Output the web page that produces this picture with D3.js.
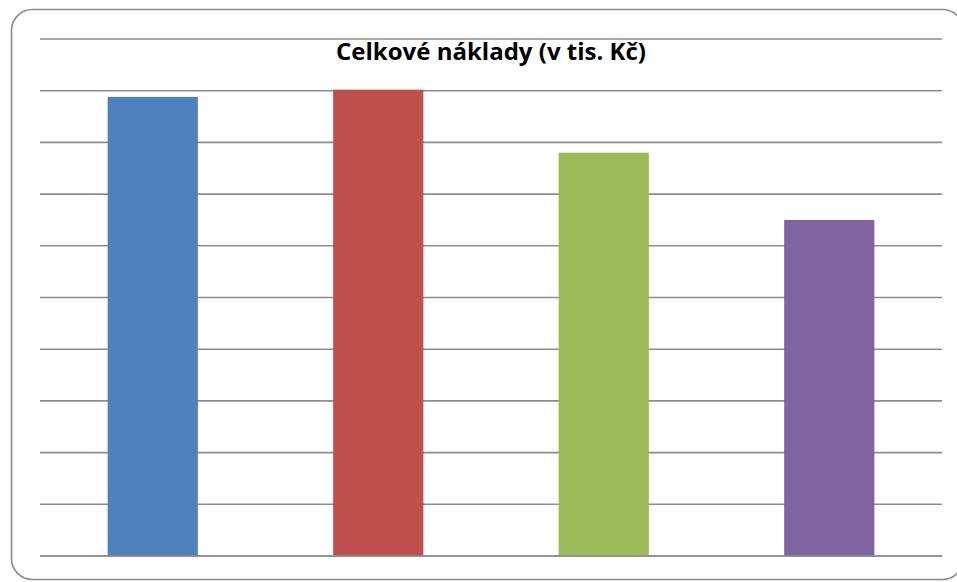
<!DOCTYPE html>
<html lang="cs">
<head>
<meta charset="UTF-8">
<title>Celkové náklady</title>
<script src="https://d3js.org/d3.v7.min.js"></script>
<style>
  body { margin: 0; background: #fff; }
  svg { display: block; }
</style>
</head>
<body>
<div id="chart"></div>
<script>
    var width = 957, height = 582;

    // data (no axis labels shown in the original)
    var categories = ['A', 'B', 'C', 'D'];
    var values = [888, 902, 780, 650];
    var colors = ['#4F81BD', '#C0504D', '#9BBB59', '#8064A2'];
    var gridTicks = [0, 100, 200, 300, 400, 500, 600, 700, 800, 900, 1000];
    var title = 'Celkové náklady (v tis. Kč)';

    var plot = {left: 40, right: 942, top: 39, bottom: 556};

    var svg = d3.select('#chart').append('svg')
        .attr('width', width)
        .attr('height', height);

    // rounded chart frame
    svg.append('rect')
        .attr('x', 11.5).attr('y', 9.5)
        .attr('width', 952).attr('height', 570)
        .attr('rx', 21).attr('ry', 21)
        .attr('fill', '#fff')
        .attr('stroke', '#8a8a8a')
        .attr('stroke-width', 1.6);

    var x = d3.scaleBand()
        .domain(categories)
        .range([plot.left, plot.right])
        .paddingInner(0.6)
        .paddingOuter(0.3);

    var y = d3.scaleLinear()
        .domain([0, 1000])
        .range([plot.bottom, plot.top]);

    // horizontal gridlines
    svg.append('g').selectAll('line')
        .data(gridTicks)
        .enter().append('line')
        .attr('x1', plot.left).attr('x2', plot.right)
        .attr('y1', function(d) { return y(d); })
        .attr('y2', function(d) { return y(d); })
        .attr('stroke', '#8c8c8c')
        .attr('stroke-width', 1.6);

    // bars
    svg.append('g').selectAll('rect')
        .data(values)
        .enter().append('rect')
        .attr('x', function(d, i) { return x(categories[i]); })
        .attr('width', x.bandwidth())
        .attr('y', function(d) { return y(d); })
        .attr('height', function(d) { return y(0) - y(d); })
        .attr('fill', function(d, i) { return colors[i]; });

    // baseline on top of bars
    svg.append('line')
        .attr('x1', plot.left).attr('x2', plot.right)
        .attr('y1', y(0)).attr('y2', y(0))
        .attr('stroke', '#8c8c8c')
        .attr('stroke-width', 1.6);

    svg.append('text')
        .attr('x', (plot.left + plot.right) / 2)
        .attr('y', 60)
        .attr('text-anchor', 'middle')
        .style('font-family', '"Open Sans", sans-serif')
        .style('font-weight', 'bold')
        .style('font-size', '22.5px')
        .attr('textLength', 310)
        .attr('lengthAdjust', 'spacingAndGlyphs')
        .attr('fill', '#000')
        .text(title);
</script>
</body>
</html>
